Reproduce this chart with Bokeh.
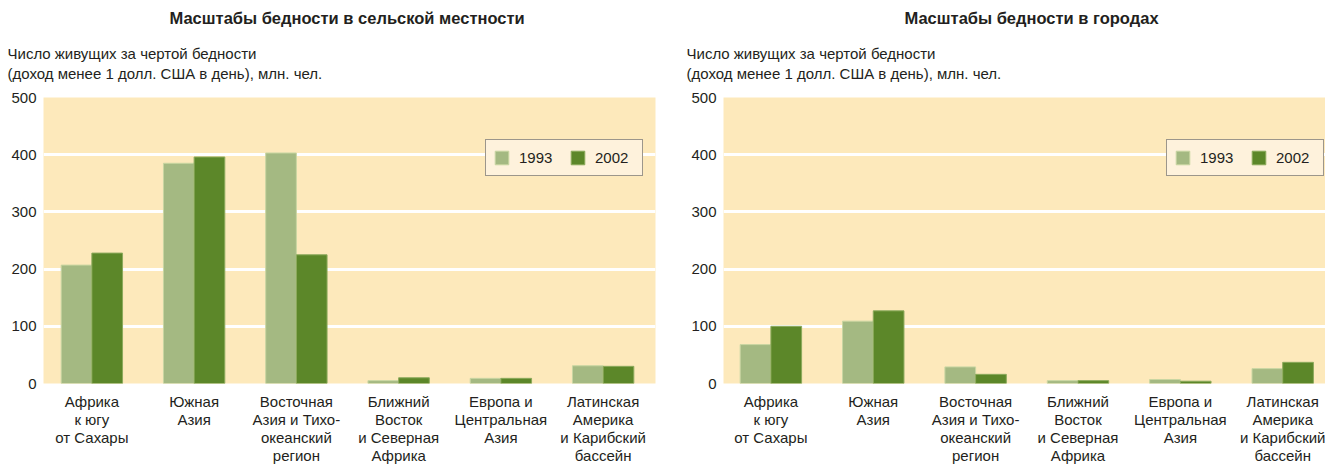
from bokeh.plotting import figure
from bokeh.models import ColumnDataSource, FixedTicker, Legend, LegendItem, Title, Range1d
from bokeh.layouts import row
from bokeh.transform import dodge
from bokeh.embed import file_html
from bokeh.resources import INLINE

regions = [
    "Африка\nк югу\nот Сахары",
    "Южная\nАзия",
    "Восточная\nАзия и Тихо-\nокеанский\nрегион",
    "Ближний\nВосток\nи Северная\nАфрика",
    "Европа и\nЦентральная\nАзия",
    "Латинская\nАмерика\nи Карибский\nбассейн",
]
years = ["1993", "2002"]
rural_1993 = [207, 385, 403, 5, 9, 31]
rural_2002 = [228, 396, 225, 10, 9, 30]
urban_1993 = [68, 109, 29, 5, 7, 26]
urban_2002 = [100, 127, 16, 5, 4, 37]
y_ticks = [0, 100, 200, 300, 400, 500]

title_rural = "Масштабы бедности в сельской местности"
title_urban = "Масштабы бедности в городах"
ylabel_text = "Число живущих за чертой бедности\n(доход менее 1 долл. США в день), млн. чел."

FONT = "Liberation Sans"
TXT = "#231f20"
C93 = "#a4b982"
C02 = "#5c8729"
BG = "#fde9bb"


def make_chart(title_text, v93, v02, width, left_border, right_border,
               x_start, x_end, title_off, ylab_off, legend_x):
    src = ColumnDataSource(dict(idx=list(range(len(regions))), y1993=v93, y2002=v02))
    p = figure(width=width, height=466,
               x_range=Range1d(x_start, x_end), y_range=Range1d(0, 500),
               output_backend="svg", toolbar_location=None,
               min_border_left=left_border, min_border_right=right_border,
               min_border_top=97, min_border_bottom=83)
    p.background_fill_color = BG
    p.border_fill_color = "white"
    p.outline_line_color = None

    r1 = p.vbar(x=dodge("idx", -0.15), top="y1993", width=0.30, source=src,
                fill_color=C93, line_color="#c9d6a2", line_width=1)
    r2 = p.vbar(x=dodge("idx", 0.15), top="y2002", width=0.30, source=src,
                fill_color=C02, line_color="#8caa5c", line_width=1)

    p.xgrid.visible = False
    p.ygrid.ticker = FixedTicker(ticks=[100, 200, 300, 400])
    p.ygrid.grid_line_color = "white"
    p.ygrid.grid_line_width = 3

    xa = p.xaxis[0]
    xa.ticker = FixedTicker(ticks=list(range(len(regions))))
    xa.major_label_overrides = {i: lab for i, lab in enumerate(regions)}
    xa.axis_line_color = None
    xa.major_tick_line_color = None
    xa.minor_tick_line_color = None
    xa.major_tick_out = 0
    xa.major_tick_in = 0
    xa.major_label_standoff = 9
    xa.major_label_text_font = FONT
    xa.major_label_text_font_size = "15px"
    xa.major_label_text_color = TXT
    xa.major_label_text_line_height = 1.06

    ya = p.yaxis[0]
    ya.ticker = FixedTicker(ticks=y_ticks)
    ya.axis_line_color = None
    ya.major_tick_line_color = None
    ya.minor_tick_line_color = None
    ya.major_tick_out = 0
    ya.major_tick_in = 0
    ya.major_label_standoff = 7
    ya.major_label_text_font = FONT
    ya.major_label_text_font_size = "15px"
    ya.major_label_text_color = TXT

    legend = Legend(items=[LegendItem(label=years[0], renderers=[r1]),
                           LegendItem(label=years[1], renderers=[r2])],
                    orientation="horizontal", location=(legend_x, 207),
                    glyph_width=17, glyph_height=17, label_standoff=9,
                    label_width=40, label_height=21,
                    spacing=10, padding=7, margin=0,
                    label_text_font=FONT, label_text_font_size="15px",
                    label_text_color=TXT,
                    background_fill_color="#fef2dc", background_fill_alpha=1,
                    border_line_color="#3a3a3a", border_line_width=1.3)
    p.add_layout(legend)

    p.add_layout(Title(text=ylabel_text, align="left", offset=ylab_off,
                       text_font=FONT, text_font_size="15px", text_font_style="normal",
                       text_line_height=1.2,
                       text_color=TXT, standoff=30), "above")
    p.add_layout(Title(text=title_text, align="left", offset=title_off,
                       text_font=FONT, text_font_size="16.5px", text_font_style="bold",
                       text_color=TXT, standoff=4), "above")
    return p


left = make_chart(title_rural, rural_1993, rural_2002, 662, 43, 7,
                  -0.473, 5.512, 126, -36, 442)
right = make_chart(title_urban, urban_1993, urban_2002, 663, 61, 0,
                   -0.463, 5.418, 181, -37, 443)

layout = row(left, right)
open("out.html", "w").write(file_html(layout, INLINE))
